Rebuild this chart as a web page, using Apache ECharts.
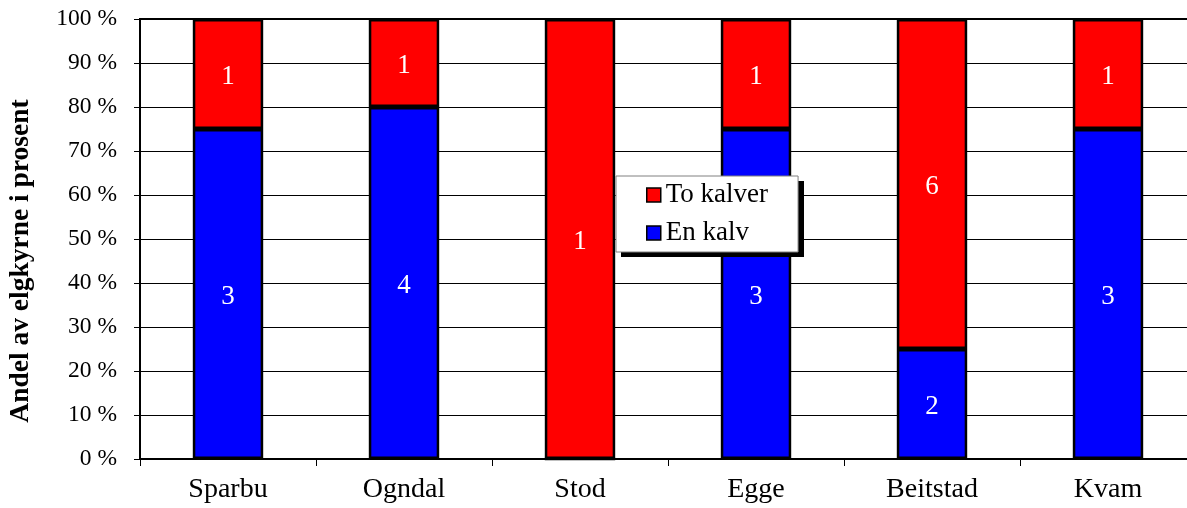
<!DOCTYPE html>
<html>
<head>
<meta charset="utf-8">
<script src="https://cdn.jsdelivr.net/npm/echarts@6/dist/echarts.min.js"></script>
<style>
html,body{margin:0;padding:0;background:#fff;}
#c{width:1187px;height:508px;}
</style>
</head>
<body>
<div id="c"></div>
<script>
var categories = ['Sparbu', 'Ogndal', 'Stod', 'Egge', 'Beitstad', 'Kvam'];
var enKalv = [3, 4, 0, 3, 2, 3];
var toKalver = [1, 1, 1, 1, 6, 1];
var yTicks = [0, 10, 20, 30, 40, 50, 60, 70, 80, 90, 100];

function pct(arr, i) {
  var t = enKalv[i] + toKalver[i];
  return t ? arr[i] / t * 100 : 0;
}
var enPct = enKalv.map(function (v, i) { return pct(enKalv, i); });
var toPct = toKalver.map(function (v, i) { return pct(toKalver, i); });

var font = 'Liberation Serif';
var chart = echarts.init(document.getElementById('c'));

function labelFor(counts) {
  return {
    show: true,
    position: 'inside',
    color: '#fff',
    fontFamily: font,
    fontSize: 27,
    offset: [0, 3],
    formatter: function (p) { var c = counts[p.dataIndex]; return c ? String(c) : ''; }
  };
}

chart.setOption({
  animation: false,
  backgroundColor: '#fff',
  grid: {
    left: 140, top: 19, height: 440, width: 1056,
    outerBoundsMode: 'none',
    containLabel: false,
    show: true, borderColor: '#000', borderWidth: 2, backgroundColor: '#fff'
  },
  graphic: [{
    type: 'rect', left: 621, top: 181, z: 90,
    shape: { width: 183, height: 76 },
    style: { fill: '#000' }
  }],
  legend: {
    orient: 'vertical',
    left: 616, top: 176,
    z: 100,
    data: ['To kalver', 'En kalv'],
    icon: 'rect',
    itemWidth: 14, itemHeight: 14,
    itemGap: 10,
    padding: [5, 30, 5, 30],
    backgroundColor: '#fff',
    borderColor: '#808080',
    borderWidth: 1,
    borderRadius: 0,
    itemStyle: { borderColor: '#000', borderWidth: 1.5 },
    textStyle: { fontFamily: font, fontSize: 27, color: '#000', lineHeight: 28 }
  },
  xAxis: {
    type: 'category',
    data: categories,
    axisLine: { lineStyle: { color: '#000', width: 2 } },
    axisTick: { show: true, length: 7, lineStyle: { color: '#000', width: 1 } },
    axisLabel: { color: '#000', fontFamily: font, fontSize: 28, margin: 17 },
    splitLine: { show: false }
  },
  yAxis: {
    type: 'value',
    min: 0, max: 100, interval: 10,
    name: 'Andel av elgkyrne i prosent',
    nameLocation: 'middle',
    nameGap: 105,
    nameTextStyle: { fontFamily: font, fontSize: 27.5, fontWeight: 'bold', color: '#000', padding: [0, 44, 0, 0] },
    axisLine: { show: true, lineStyle: { color: '#000', width: 2 } },
    axisTick: { show: true, length: 6, lineStyle: { color: '#000', width: 1 } },
    axisLabel: {
      color: '#000', fontFamily: font, fontSize: 23.5, margin: 23,
      formatter: function (v) { return yTicks.indexOf(v) >= 0 ? v + ' %' : ''; }
    },
    splitLine: { show: true, lineStyle: { color: '#000', width: 1 } }
  },
  series: [
    {
      name: 'En kalv', type: 'bar', stack: 'a', barWidth: '40%',
      data: enPct,
      itemStyle: { color: '#0000ff', borderColor: '#000', borderWidth: 2.5 },
      label: labelFor(enKalv)
    },
    {
      name: 'To kalver', type: 'bar', stack: 'a', barWidth: '40%',
      data: toPct,
      itemStyle: { color: '#ff0000', borderColor: '#000', borderWidth: 2.5 },
      label: labelFor(toKalver)
    }
  ]
});
</script>
</body>
</html>
